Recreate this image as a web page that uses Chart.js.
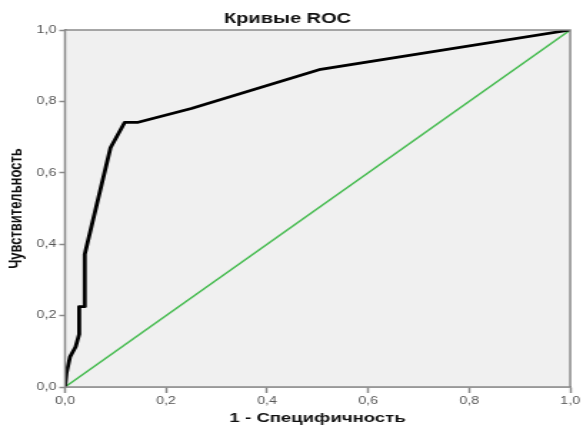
<!DOCTYPE html>
<html>
<head>
<meta charset="utf-8">
<title>Кривые ROC</title>
<script src="https://cdn.jsdelivr.net/npm/chart.js@4"></script>
<style>
  html, body { margin: 0; padding: 0; background: #fff; }
  #wrap { width: 583px; height: 430px; overflow: hidden; }
  /* the source picture is stretched sideways, so the canvas is too */
  #chart-roc { width: 583px !important; height: 430px !important; display: block; }
</style>
</head>
<body>
<div id="wrap"><canvas id="chart-roc" width="408" height="430"></canvas></div>
<script>
// ROC curve points
const fpr = [0, 0.003, 0.01, 0.021, 0.028, 0.028, 0.039, 0.039, 0.09, 0.118, 0.143, 0.25, 0.506, 1];
const tpr = [0, 0.04, 0.085, 0.113, 0.148, 0.225, 0.225, 0.372, 0.67, 0.741, 0.741, 0.78, 0.89, 1];
// reference line
const refX = [0, 1];
const refY = [0, 1];
const tickValues = [0, 0.2, 0.4, 0.6, 0.8, 1.0];

const chartTitle = 'Кривые ROC';
const xTitle = '1 - Специфичность';
const yTitle = 'Чувствительность';

const FONT = "'Liberation Sans', Arial, sans-serif";
const AXIS = '#8a8a8a';

function toPoints(xs, ys) {
  return xs.map((x, i) => ({ x: x, y: ys[i] }));
}

function fmt(v) {
  return v.toFixed(1).replace('.', ',');
}

// grey plot background and frame
const framePlugin = {
  id: 'frame',
  beforeDatasetsDraw(chart) {
    const { ctx, chartArea: a } = chart;
    ctx.save();
    ctx.fillStyle = '#f0f0f0';
    ctx.fillRect(a.left, a.top, a.right - a.left, a.bottom - a.top);
    ctx.restore();
  },
  afterDatasetsDraw(chart) {
    const { ctx, chartArea: a } = chart;
    ctx.save();
    ctx.strokeStyle = AXIS;
    ctx.lineWidth = 1.5;
    ctx.strokeRect(a.left, a.top, a.right - a.left, a.bottom - a.top);
    ctx.restore();
  }
};

const ctx = document.getElementById('chart-roc');
new Chart(ctx, {
  type: 'scatter',
  data: {
    datasets: [
      {
        data: toPoints(refX, refY),
        showLine: true,
        borderColor: '#45bb4f',
        borderWidth: 1.5,
        pointRadius: 0,
        order: 2
      },
      {
        data: toPoints(fpr, tpr),
        showLine: true,
        borderColor: '#000',
        borderWidth: 2.8,
        borderJoinStyle: 'round',
        pointRadius: 0,
        order: 1
      }
    ]
  },
  options: {
    responsive: false,
    animation: false,
    devicePixelRatio: 1,
    layout: { padding: { top: 0, right: 5.6, left: 0, bottom: 0 } },
    plugins: {
      legend: { display: false },
      tooltip: { enabled: false },
      title: {
        display: true,
        text: chartTitle,
        color: '#111',
        font: { family: FONT, size: 14, weight: 'bold' },
        padding: { top: 10.4, bottom: 2.8 }
      }
    },
    scales: {
      x: {
        type: 'linear',
        min: 0,
        max: 1,
        afterFit: s => { s.height = 43; },
        afterBuildTicks: s => { s.ticks = tickValues.map(v => ({ value: v })); },
        grid: { drawOnChartArea: false, tickLength: 6, color: AXIS, tickWidth: 1.5 },
        border: { color: AXIS, width: 1.5 },
        ticks: {
          callback: v => fmt(v),
          color: '#555',
          font: { family: FONT, size: 10 },
          padding: 2,
          maxRotation: 0
        },
        title: {
          display: true,
          text: xTitle,
          color: '#111',
          font: { family: FONT, size: 13, weight: 'bold' },
          padding: { top: 0, bottom: 4 }
        }
      },
      y: {
        type: 'linear',
        min: 0,
        max: 1,
        afterFit: s => { s.width = 45.5; },
        afterBuildTicks: s => { s.ticks = tickValues.map(v => ({ value: v })); },
        grid: { drawOnChartArea: false, tickLength: 4, color: AXIS, tickWidth: 1.5 },
        border: { color: AXIS, width: 1.8 },
        ticks: {
          callback: v => fmt(v),
          color: '#555',
          font: { family: FONT, size: 10 },
          padding: 2
        },
        title: {
          display: true,
          text: yTitle,
          color: '#111',
          font: { family: FONT, size: 13, weight: 'bold' },
          padding: { top: 4, bottom: 0 }
        }
      }
    }
  },
  plugins: [framePlugin]
});
</script>
</body>
</html>
